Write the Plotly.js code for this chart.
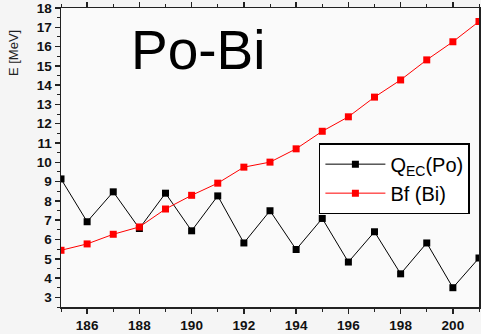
<!DOCTYPE html>
<html><head><meta charset="utf-8">
<script src="https://cdn.plot.ly/plotly-3.0.1.min.js"></script>
<style>html,body{margin:0;padding:0;background:#f5f5f5}#c{width:481px;height:334px}</style>
</head><body><div id="c"></div>
<script>
const massNumbers = [185,186,187,188,189,190,191,192,193,194,195,196,197,198,199,200,201];
const qecPo = [9.14,6.92,8.47,6.57,8.4,6.45,8.26,5.82,7.49,5.48,7.09,4.83,6.4,4.22,5.82,3.5,5.04];
const bfBi = [5.44,5.77,6.27,6.65,7.58,8.29,8.92,9.75,10.01,10.7,11.61,12.36,13.38,14.27,15.31,16.25,17.3];
const seriesNames = ['Q<sub>EC</sub>(Po)','Bf (Bi)'];
const xTickVals = [186,188,190,192,194,196,198,200];
const yTickVals = [3,4,5,6,7,8,9,10,11,12,13,14,15,16,17,18];

const font = 'Arial, "Liberation Sans", sans-serif';
const traces = [
  {x: massNumbers, y: qecPo, name: seriesNames[0], mode:'lines+markers',
   line:{color:'#000', width:1}, marker:{symbol:'square', size:7, color:'#000'}},
  {x: massNumbers, y: bfBi, name: seriesNames[1], mode:'lines+markers',
   line:{color:'#ff0000', width:1}, marker:{symbol:'square', size:7, color:'#ff0000'}}
];
const axisCommon = {showgrid:false, zeroline:false, showline:true, linecolor:'#222', linewidth:1.5,
  mirror:'allticks', ticks:'outside', ticklen:5, tickwidth:1.5, tickcolor:'#222',
  tickfont:{family:font, size:13.5, color:'#111', weight:'bold'}};
const layout = {
  width:481, height:334,
  margin:{l:61, r:2, t:8, b:27},
  paper_bgcolor:'#f5f5f5', plot_bgcolor:'#fafafa',
  showlegend:true,
  legend:{x:0.617, y:0.548, xanchor:'left', yanchor:'top', bgcolor:'#fff',
    bordercolor:'#000', borderwidth:1.5, font:{family:font, size:20, color:'#000'},
    itemwidth:60, tracegroupgap:0},
  xaxis: Object.assign({}, axisCommon, {range:[185,201], tickvals:xTickVals,
    minor:{dtick:1, tick0:185, ticklen:3, tickwidth:1, tickcolor:'#222', ticks:'outside'}}),
  yaxis: Object.assign({}, axisCommon, {range:[2.5,18], tickvals:yTickVals,
    minor:{dtick:0.5, tick0:2.5, ticklen:3, tickwidth:1, tickcolor:'#222', ticks:'outside'}}),
  annotations:[
    {text:'Po-Bi', xref:'paper', yref:'paper', x:0.163, y:0.86, xanchor:'left', yanchor:'middle',
     showarrow:false, font:{family:font, size:55, color:'#000'}},
    {text:'E [MeV]', xref:'paper', yref:'paper', x:-0.112, y:0.85, xanchor:'center', yanchor:'middle',
     textangle:-90, showarrow:false, font:{family:font, size:13, color:'#222'}}
  ]
};
Plotly.newPlot('c', traces, layout, {displayModeBar:false, staticPlot:true});
</script></body></html>
